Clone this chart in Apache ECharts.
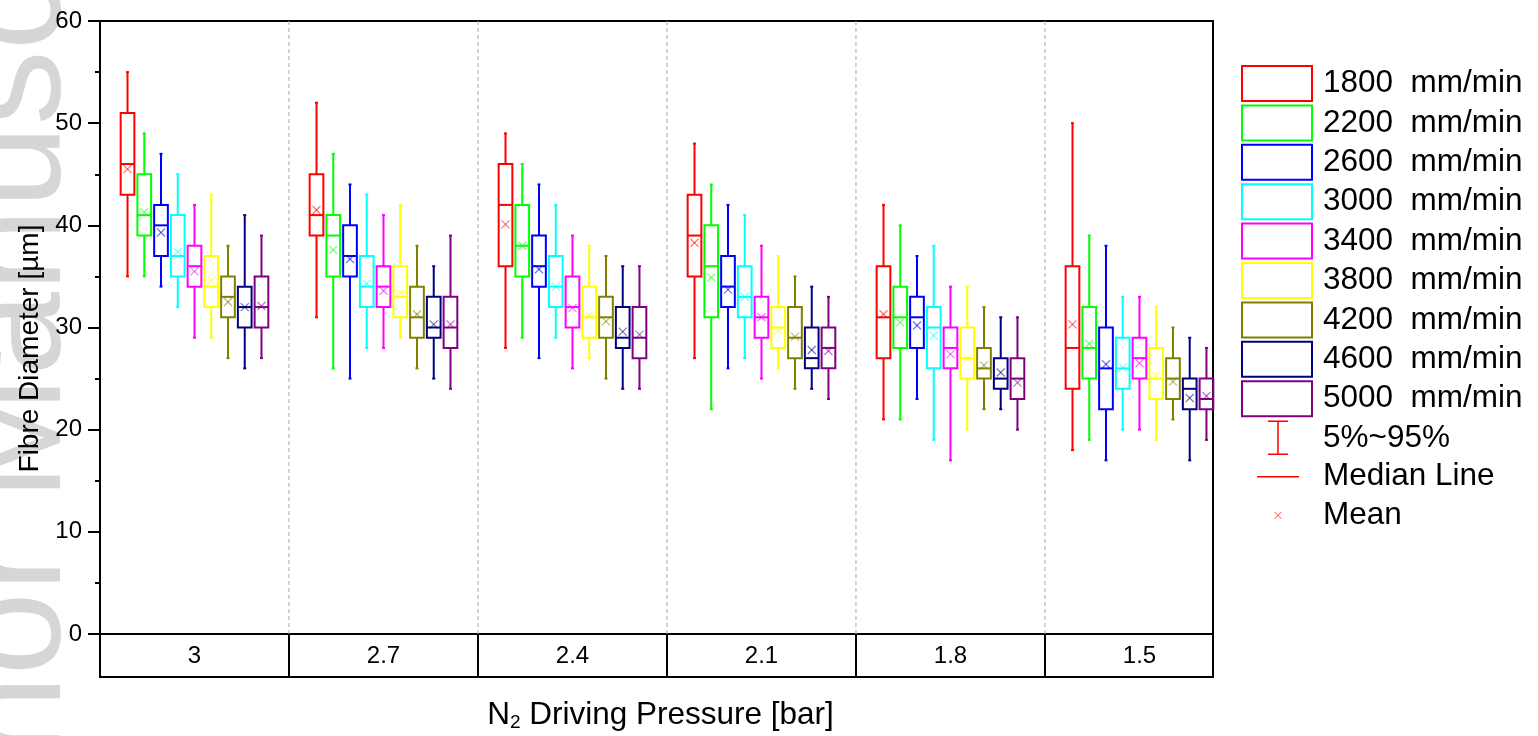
<!DOCTYPE html>
<html>
<head>
<meta charset="utf-8">
<script src="https://cdn.jsdelivr.net/npm/echarts@6/dist/echarts.min.js"></script>
<style>
  html, body { margin: 0; padding: 0; background: #fff; }
  #chart { width: 1538px; height: 736px; }
</style>
</head>
<body>
<div id="chart"></div>
<script>
// N2 driving pressure groups (bar) and take-up speeds (mm/min)
const pressures = ['3', '2.7', '2.4', '2.1', '1.8', '1.5'];
const speeds = ['1800', '2200', '2600', '3000', '3400', '3800', '4200', '4600', '5000'];
const colors = ['#ff0000', '#00ff00', '#0000ff', '#00ffff', '#ff00ff', '#ffff00', '#808000', '#000080', '#800080'];

// Fibre diameter statistics [µm]: one row per speed, one column per pressure
const p5 = [
  [35, 31, 28, 27, 21, 18],
  [35, 26, 29, 22, 21, 19],
  [34, 25, 27, 26, 23, 17],
  [32, 28, 29, 27, 19, 20],
  [29, 28, 26, 25, 17, 20],
  [29, 29, 27, 26, 20, 19],
  [27, 26, 25, 24, 22, 21],
  [26, 25, 24, 24, 22, 17],
  [27, 24, 24, 23, 20, 19]
];
const q1 = [
  [43, 39, 36, 35, 27, 24],
  [39, 35, 35, 31, 28, 25],
  [37, 35, 34, 32, 28, 22],
  [35, 32, 32, 31, 26, 24],
  [34, 32, 30, 29, 26, 25],
  [32, 31, 29, 28, 25, 23],
  [31, 29, 29, 27, 25, 23],
  [30, 29, 28, 26, 24, 22],
  [30, 28, 27, 26, 23, 22]
];
const median = [
  [46, 41, 42, 39, 31, 28],
  [41, 39, 38, 36, 31, 28],
  [40, 37, 36, 34, 31, 26],
  [37, 34, 34, 33, 30, 26],
  [36, 34, 32, 31, 28, 27],
  [34, 33, 31, 30, 27, 25],
  [33, 31, 31, 29, 26, 25],
  [32, 30, 29, 27, 25, 24],
  [32, 30, 29, 28, 25, 23]
];
const q3 = [
  [51, 45, 46, 43, 36, 36],
  [45, 41, 42, 40, 34, 32],
  [42, 40, 39, 37, 33, 30],
  [41, 37, 37, 36, 32, 29],
  [38, 36, 35, 33, 30, 29],
  [37, 36, 34, 32, 30, 28],
  [35, 34, 33, 32, 28, 27],
  [34, 33, 32, 30, 27, 25],
  [35, 33, 32, 30, 27, 25]
];
const p95 = [
  [55, 52, 49, 48, 42, 50],
  [49, 47, 46, 44, 40, 39],
  [47, 44, 44, 42, 37, 38],
  [45, 43, 42, 41, 38, 33],
  [42, 41, 39, 38, 34, 33],
  [43, 42, 38, 37, 34, 32],
  [38, 38, 37, 35, 32, 30],
  [41, 36, 36, 34, 31, 29],
  [39, 39, 36, 33, 31, 28]
];
const mean = [
  [45.5, 41.5, 40.1, 38.3, 31.3, 30.3],
  [41.3, 37.6, 38.0, 34.9, 30.5, 28.4],
  [39.3, 36.7, 35.7, 33.7, 30.2, 26.4],
  [37.4, 34.3, 34.0, 33.0, 29.2, 26.1],
  [35.5, 33.6, 31.9, 31.0, 27.4, 26.5],
  [34.6, 33.4, 31.2, 29.7, 27.0, 25.3],
  [32.5, 31.3, 30.6, 29.1, 26.3, 24.7],
  [32.0, 30.3, 29.6, 27.8, 25.6, 23.1],
  [32.1, 30.3, 29.3, 27.7, 24.6, 23.3]
];
// boundaries between pressure groups on the x scale
const groupEdges = [1, 2, 3, 4, 5];

const FONT = "'Liberation Sans', Arial, sans-serif";
const X_MAX = 5.889;     // the last group is cut short by the right frame
const BOX_STEP = 0.0886; // distance between neighbouring boxes, in group widths
const BOX_W = 0.0725;    // box width, in group widths

function boxRenderer(k) {
  const c = colors[k];
  return function (params, api) {
    const unit = api.size([1, 0])[0];
    const x0 = api.value(0);
    const cx = api.coord([x0, 0])[0] + (k - 4) * BOX_STEP * unit;
    const hw = BOX_W * unit / 2;
    const y = i => api.coord([x0, api.value(i)])[1];
    const yLo = y(1), yQ1 = y(2), yMed = y(3), yQ3 = y(4), yHi = y(5), yMean = y(6);
    const line = (x1, y1, x2, y2, w, op) => ({
      type: 'line', shape: { x1, y1, x2, y2 },
      style: { stroke: c, lineWidth: w, opacity: op == null ? 1 : op }
    });
    const m = 4;
    return {
      type: 'group',
      children: [
        line(cx, yQ3, cx, yHi, 2),
        line(cx - 1.5, yHi, cx + 1.5, yHi, 2),
        line(cx, yQ1, cx, yLo, 2),
        line(cx - 1.5, yLo, cx + 1.5, yLo, 2),
        {
          type: 'rect',
          shape: { x: cx - hw, y: yQ3, width: 2 * hw, height: yQ1 - yQ3 },
          style: { fill: 'none', stroke: c, lineWidth: 2 }
        },
        line(cx - hw, yMed, cx + hw, yMed, 2),
        line(cx - m, yMean - m, cx + m, yMean + m, 1.2, 0.55),
        line(cx - m, yMean + m, cx + m, yMean - m, 1.2, 0.55)
      ]
    };
  };
}

const boxSeries = speeds.map((s, k) => ({
  type: 'custom',
  name: s + '  mm/min',
  xAxisIndex: 0,
  yAxisIndex: 0,
  itemStyle: { color: colors[k] },
  silent: true,
  encode: { x: 0, y: [1, 2, 3, 4, 5, 6] },
  data: pressures.map((p, i) => [i + 0.5, p5[k][i], q1[k][i], median[k][i], q3[k][i], p95[k][i], mean[k][i]]),
  renderItem: boxRenderer(k),
  z: 3
}));

// dashed separators between pressure groups
const separatorSeries = {
  type: 'custom',
  xAxisIndex: 0,
  yAxisIndex: 0,
  silent: true,
  encode: { x: 0, y: 1 },
  data: groupEdges.map(e => [e, 0]),
  renderItem: function (params, api) {
    const top = api.coord([api.value(0), 60]);
    const bottom = api.coord([api.value(0), 0]);
    return {
      type: 'line',
      shape: { x1: top[0], y1: top[1], x2: bottom[0], y2: bottom[1] },
      style: { stroke: '#a8a8a8', lineWidth: 1, lineDash: [4, 3] }
    };
  },
  z: 1
};

// legend-only entries for the box plot elements
const keySeries = ['5%~95%', 'Median Line', 'Mean'].map(n => ({
  type: 'custom', name: n, xAxisIndex: 0, yAxisIndex: 0, data: [],
  renderItem: () => null
}));

const legendData = speeds.map((s, k) => ({
  name: s + '  mm/min',
  icon: 'rect',
  itemStyle: { color: 'rgba(0,0,0,0)', borderColor: colors[k], borderWidth: 2 }
})).concat([
  {
    name: '5%~95%',
    icon: 'path://M0,0M70,35M26,1L46,1M36,1L36,34M26,34L46,34',
    itemStyle: { color: 'rgba(0,0,0,0)', borderColor: '#ff0000', borderWidth: 1.5 }
  },
  {
    name: 'Median Line',
    icon: 'path://M0,0M70,35M15,17.5L57,17.5',
    itemStyle: { color: 'rgba(0,0,0,0)', borderColor: '#ff0000', borderWidth: 1.5 }
  },
  {
    name: 'Mean',
    icon: 'path://M0,0M70,35M32.5,14L39.5,21M39.5,14L32.5,21',
    itemStyle: { color: 'rgba(0,0,0,0)', borderColor: '#ff0000', borderWidth: 1, opacity: 0.7 }
  }
]);

const chart = echarts.init(document.getElementById('chart'), null, { renderer: 'canvas' });
chart.setOption({
  backgroundColor: '#ffffff',
  animation: false,
  textStyle: { fontFamily: FONT },
  graphic: [{
    type: 'text',
    z: -10,
    silent: true,
    x: 94,
    y: 984,
    rotation: Math.PI / 2,
    style: {
      text: 'Author Manuscript',
      fontSize: 150,
      fontFamily: FONT,
      fill: '#d6d6d6',
      align: 'left',
      verticalAlign: 'bottom'
    }
  }],
  grid: [
    { left: 100, top: 21, width: 1113, height: 613, show: true, borderColor: '#000', borderWidth: 2, backgroundColor: 'rgba(0,0,0,0)' },
    { left: 100, top: 634, width: 1113, height: 43, show: true, borderColor: '#000', borderWidth: 2, backgroundColor: 'rgba(0,0,0,0)' }
  ],
  xAxis: [
    {
      gridIndex: 0, type: 'value', min: 0, max: X_MAX, interval: 0.5, position: 'bottom',
      axisLine: { show: true, lineStyle: { color: '#000', width: 2 } },
      axisTick: { show: false },
      splitLine: { show: false },
      axisLabel: {
        margin: 10, fontSize: 24, color: '#000', fontFamily: FONT,
        formatter: function (v) {
          const i = Math.round(v - 0.5);
          return (Math.abs(v - (i + 0.5)) < 1e-6 && i >= 0 && i < pressures.length) ? pressures[i] : '';
        }
      }
    },
    {
      gridIndex: 1, type: 'value', min: 0, max: X_MAX, interval: 1,
      axisLine: { show: false }, axisTick: { show: false }, axisLabel: { show: false },
      splitLine: { show: true, lineStyle: { color: '#000', width: 2, type: 'solid' } },
      name: '{n|N}{s|2}{n| Driving Pressure [bar]}',
      nameLocation: 'middle',
      nameGap: 22,
      nameTextStyle: {
        color: '#000',
        padding: [0, 0, 0, 8],
        rich: {
          n: { fontSize: 31.5, lineHeight: 33, fontFamily: FONT, color: '#000' },
          s: { fontSize: 19, lineHeight: 11, verticalAlign: 'bottom', fontFamily: FONT, color: '#000' }
        }
      }
    }
  ],
  yAxis: [
    {
      gridIndex: 0, type: 'value', min: 0, max: 60, interval: 10,
      axisLine: { show: true, lineStyle: { color: '#000', width: 2 } },
      axisTick: { show: true, length: 12, lineStyle: { color: '#000', width: 2 } },
      minorTick: { show: true, splitNumber: 2, length: 5, lineStyle: { color: '#000', width: 2 } },
      splitLine: { show: false },
      axisLabel: { margin: 18, fontSize: 24, color: '#000', fontFamily: FONT },
      name: 'Fibre Diameter [µm]',
      nameLocation: 'middle',
      nameGap: 55,
      nameTextStyle: { fontSize: 28, color: '#000', fontFamily: FONT, padding: [0, 42, 0, 0] }
    },
    { gridIndex: 1, type: 'value', min: 0, max: 1, show: false }
  ],
  legend: {
    orient: 'vertical',
    left: 1241,
    top: 65,
    padding: 0,
    itemWidth: 70,
    itemHeight: 35,
    itemGap: 2.4,
    selectedMode: false,
    textStyle: { fontSize: 31.5, lineHeight: 35, color: '#000', fontFamily: FONT, padding: [0, 0, 0, 6] },
    data: legendData
  },
  series: [separatorSeries].concat(boxSeries, keySeries)
});
</script>
</body>
</html>
